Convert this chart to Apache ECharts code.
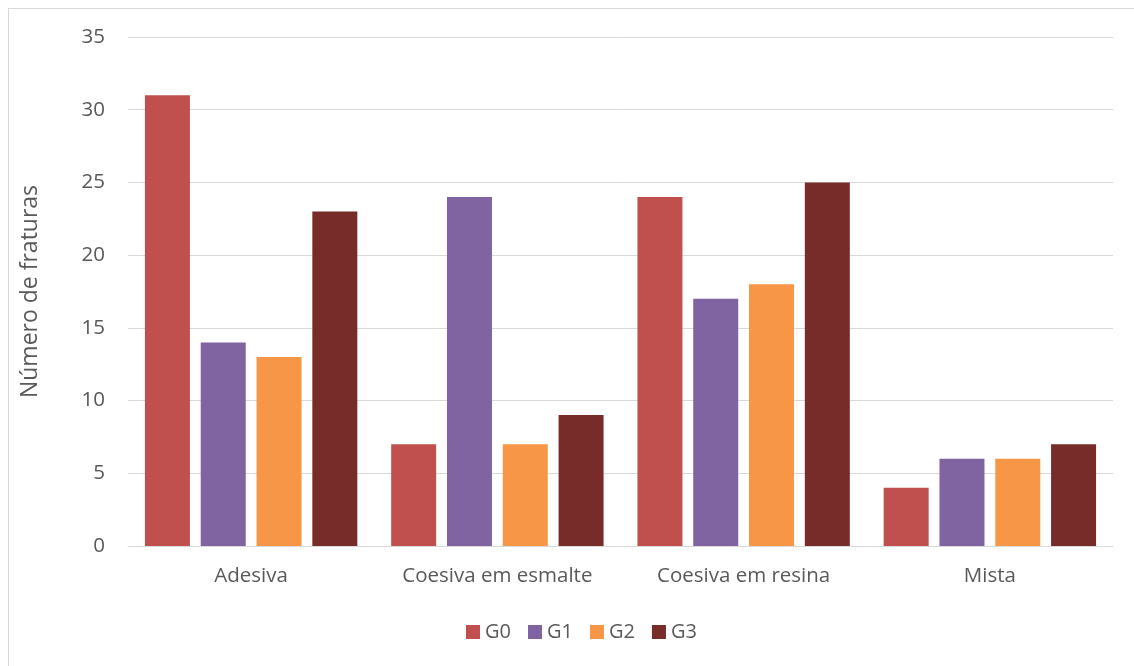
<!DOCTYPE html>
<html><head><meta charset="utf-8">
<script src="https://cdn.jsdelivr.net/npm/echarts@6/dist/echarts.min.js"></script>
<style>
html,body{margin:0;padding:0;background:#fff;}
#frame{position:absolute;left:8px;top:8px;width:1140px;height:680px;border:1px solid #d9d9d9;box-sizing:border-box;}
#c{position:absolute;left:0;top:0;width:1134px;height:666px;}
</style></head><body>
<div id="frame"></div>
<div id="c"></div>
<script>
const categories = ['Adesiva', 'Coesiva em esmalte', 'Coesiva em resina', 'Mista'];
const seriesNames = ['G0', 'G1', 'G2', 'G3'];
const G0 = [31, 7, 24, 4];
const G1 = [14, 24, 17, 6];
const G2 = [13, 7, 18, 6];
const G3 = [23, 9, 25, 7];
const yTicks = [0, 5, 10, 15, 20, 25, 30, 35];
const colors = ['#C0504D', '#8064A2', '#F79646', '#772C2A'];
const values = [G0, G1, G2, G3];
const font = '"Open Sans", "Liberation Sans", sans-serif';
const chart = echarts.init(document.getElementById('c'));
chart.setOption({
  animation: false,
  textStyle: {fontFamily: font},
  legend: {
    data: seriesNames, top: 617, left: 461,
    itemWidth: 14, itemHeight: 14, itemGap: 17, icon: 'rect',
    textStyle: {color: '#595959', fontSize: 20, fontFamily: font}
  },
  grid: {left: 128, right: 21, top: 37, bottom: 120},
  xAxis: {
    type: 'category', data: categories,
    axisLine: {lineStyle: {color: '#d9d9d9', width: 1}},
    axisTick: {show: false},
    axisLabel: {color: '#595959', fontSize: 20.5, margin: 20, interval: 0, fontFamily: font}
  },
  yAxis: {
    type: 'value', min: yTicks[0], max: yTicks[yTicks.length - 1], interval: 5,
    name: 'Número de fraturas', nameLocation: 'middle', nameGap: 86,
    nameTextStyle: {color: '#595959', fontSize: 23, fontFamily: font},
    axisLine: {show: false}, axisTick: {show: false},
    axisLabel: {color: '#595959', fontSize: 20.5, margin: 23, fontFamily: font},
    splitLine: {lineStyle: {color: '#d9d9d9', width: 1}}
  },
  series: seriesNames.map((n, i) => ({
    name: n, type: 'bar', data: values[i], barWidth: 45, barGap: '24%',
    itemStyle: {color: colors[i]}
  }))
});
</script></body></html>
